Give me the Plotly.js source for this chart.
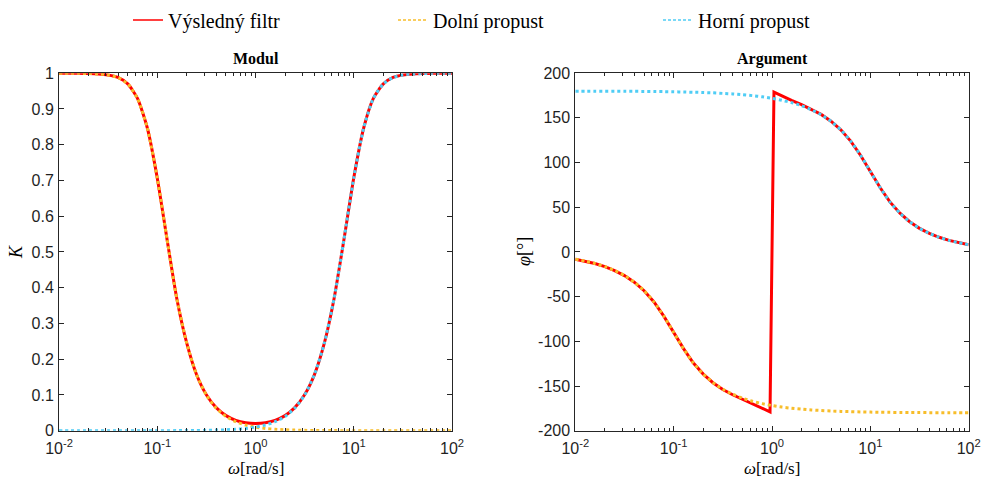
<!DOCTYPE html>
<html><head><meta charset="utf-8">
<script src="https://cdn.plot.ly/plotly-3.0.1.min.js"></script>
<style>html,body{margin:0;padding:0;background:#fff}</style>
</head><body><div id="chart" style="width:984px;height:477px"></div>
<script>
// angular frequency samples [rad/s]
const omega = [0.01, 0.0126, 0.0158, 0.02, 0.0251, 0.0316, 0.0398, 0.0501, 0.0631, 0.0794,
  0.1, 0.126, 0.158, 0.2, 0.251, 0.316, 0.398, 0.501, 0.631, 0.794,
  1, 1.26, 1.58, 2, 2.51, 3.16, 3.98, 5.01, 6.31, 7.94,
  10, 12.6, 15.8, 20, 25.1, 31.6, 39.8, 50.1, 63.1, 79.4, 100];

// Modul (K)
const lowMag = [1.000, 1.000, 0.9997, 0.9992, 0.998, 0.995, 0.988, 0.970, 0.929, 0.846,
  0.707, 0.534, 0.370, 0.244, 0.157, 0.0995, 0.0631, 0.0398, 0.0251, 0.0159,
  0.0100, 0.0063, 0.0040, 0.0025, 0.0016, 0.0010, 0.0006, 0.0004, 0.00025, 0.00016,
  0.0001, 0.00006, 0.00004, 0.000025, 0.000016, 0.00001, 0.000006, 0.000004, 0.0000025, 0.0000016, 0.000001];
const highMag = [0.000001, 0.0000016, 0.0000025, 0.000004, 0.000006, 0.00001, 0.000016, 0.000025, 0.00004, 0.00006,
  0.0001, 0.00016, 0.00025, 0.0004, 0.0006, 0.001, 0.0016, 0.0025, 0.004, 0.0063,
  0.0100, 0.0159, 0.0251, 0.0398, 0.0631, 0.0995, 0.157, 0.244, 0.370, 0.534,
  0.707, 0.846, 0.929, 0.970, 0.988, 0.995, 0.998, 0.9992, 0.9997, 1.000, 1.000];
const resultMag = [1.000, 1.000, 0.9997, 0.9992, 0.998, 0.995, 0.988, 0.970, 0.929, 0.846,
  0.707, 0.534, 0.370, 0.244, 0.157, 0.1004, 0.0645, 0.0422, 0.0289, 0.0220,
  0.0198, 0.0220, 0.0289, 0.0422, 0.0645, 0.1004, 0.157, 0.244, 0.370, 0.534,
  0.707, 0.846, 0.929, 0.970, 0.988, 0.995, 0.998, 0.9992, 0.9997, 1.000, 1.000];

// Argument (phi, degrees)
const lowPhase = [-8.1, -10.3, -12.9, -16.4, -20.8, -26.4, -33.8, -43.4, -56.0, -71.8,
  -90, -108.2, -124.0, -136.6, -146.2, -153.6, -159.2, -163.6, -167.1, -169.7,
  -171.9, -173.6, -174.9, -175.9, -176.8, -177.4, -178.0, -178.4, -178.7, -179.0,
  -179.2, -179.4, -179.5, -179.6, -179.7, -179.7, -179.8, -179.8, -179.9, -179.9, -179.9];
const highPhase = [179.9, 179.9, 179.9, 179.8, 179.8, 179.7, 179.7, 179.6, 179.5, 179.4,
  179.2, 179.0, 178.7, 178.4, 178.0, 177.4, 176.8, 175.9, 174.9, 173.6,
  171.9, 169.7, 167.1, 163.6, 159.2, 153.6, 146.2, 136.6, 124.0, 108.2,
  90, 71.8, 56.0, 43.4, 33.8, 26.4, 20.8, 16.4, 12.9, 10.3, 8.1];
const omegaResultPhase = [0.01, 0.0126, 0.0158, 0.02, 0.0251, 0.0316, 0.0398, 0.0501, 0.0631, 0.0794,
  0.1, 0.126, 0.158, 0.2, 0.251, 0.316, 0.398, 0.501, 0.631, 0.794,
  0.955, 1.047, 1.26, 1.58, 2, 2.51, 3.16, 3.98, 5.01, 6.31, 7.94,
  10, 12.6, 15.8, 20, 25.1, 31.6, 39.8, 50.1, 63.1, 79.4, 100];
const resultPhase = [-8.1, -10.3, -12.9, -16.4, -20.8, -26.4, -33.8, -43.4, -56.0, -71.8,
  -90, -108.2, -124.0, -136.7, -146.3, -153.9, -159.8, -164.9, -169.5, -174.4,
  -178.9, 178.9, 174.4, 169.5, 164.9, 159.8, 153.9, 146.3, 136.7, 124.0, 108.2,
  90, 71.8, 56.0, 43.4, 33.8, 26.4, 20.8, 16.4, 12.9, 10.3, 8.1];

const seriesNames = ['Výsledný filtr', 'Dolní propust', 'Horní propust'];
const xTickVals = [0.01, 0.1, 1, 10, 100];
const xTickText = ['10<sup>-2</sup>', '10<sup>-1</sup>', '10<sup>0</sup>', '10<sup>1</sup>', '10<sup>2</sup>'];
const phiTickVals = [-200, -150, -100, -50, 0, 50, 100, 150, 200];
const phiTickText = ['-200', '-150', '-100', '-50', '0', '50', '100', '150', '200'];

const RED = '#ff0000', YEL = '#f7bd2a', BLU = '#4fcdf5';
const AX = '#262626';
const W = 984, H = 477;
const px = v => v / W, py = v => 1 - v / H;

const traces = [
  {x: omega, y: resultMag, xaxis: 'x', yaxis: 'y', mode: 'lines', showlegend: false,
   line: {color: RED, width: 3, shape: 'spline', smoothing: 0.6}},
  {x: omega, y: lowMag, xaxis: 'x', yaxis: 'y', mode: 'lines', showlegend: false,
   line: {color: YEL, width: 3, dash: 'dot', shape: 'spline', smoothing: 0.6}},
  {x: omega, y: highMag, xaxis: 'x', yaxis: 'y', mode: 'lines', showlegend: false,
   line: {color: BLU, width: 3, dash: 'dot', shape: 'spline', smoothing: 0.6}},
  {x: omegaResultPhase, y: resultPhase, xaxis: 'x2', yaxis: 'y2', mode: 'lines', showlegend: false,
   line: {color: RED, width: 3}},
  {x: omega, y: lowPhase, xaxis: 'x2', yaxis: 'y2', mode: 'lines', showlegend: false,
   line: {color: YEL, width: 3, dash: 'dot', shape: 'spline', smoothing: 0.6}},
  {x: omega, y: highPhase, xaxis: 'x2', yaxis: 'y2', mode: 'lines', showlegend: false,
   line: {color: BLU, width: 3, dash: 'dot', shape: 'spline', smoothing: 0.6}},
  // legend entries
  {x: [null], y: [null], xaxis: 'x', yaxis: 'y', mode: 'lines', name: seriesNames[0],
   line: {color: RED, width: 1.5}},
  {x: [null], y: [null], xaxis: 'x', yaxis: 'y', mode: 'lines', name: seriesNames[1],
   line: {color: YEL, width: 1.5, dash: '3px,2px'}},
  {x: [null], y: [null], xaxis: 'x', yaxis: 'y', mode: 'lines', name: seriesNames[2],
   line: {color: BLU, width: 1.5, dash: '3px,2px'}}
];

const tickFont = {family: 'Liberation Sans, Arial, sans-serif', size: 16, color: '#1f1f1f'};
const xCommon = {
  type: 'log', range: [-2, 2], tickmode: 'array', tickvals: xTickVals, ticktext: xTickText,
  ticks: 'inside', ticklen: 5, tickwidth: 1, tickcolor: AX, mirror: 'allticks', ticklabelstandoff: 3,
  showline: true, linecolor: AX, linewidth: 1, showgrid: false, zeroline: false,
  minor: {ticks: 'inside', ticklen: 3, tickcolor: AX, tickwidth: 1, dtick: 'D1', tickmode: 'linear', showgrid: false},
  tickfont: tickFont, fixedrange: true
};
const yCommon = {
  ticks: 'inside', ticklen: 5, tickwidth: 1, tickcolor: AX, mirror: 'allticks', ticklabelstandoff: 1,
  showline: true, linecolor: AX, linewidth: 1, showgrid: false, zeroline: false,
  tickfont: tickFont, fixedrange: true
};

const serif = 'Liberation Serif, DejaVu Serif, serif';
const layout = {
  width: W, height: H,
  margin: {l: 0, r: 0, t: 0, b: 0, pad: 0},
  paper_bgcolor: '#fff', plot_bgcolor: '#fff',
  xaxis: Object.assign({}, xCommon, {domain: [px(59), px(452)], anchor: 'y'}),
  yaxis: Object.assign({}, yCommon, {domain: [py(430.5), py(71.5)], anchor: 'x', range: [0, 1], dtick: 0.1, tick0: 0}),
  xaxis2: Object.assign({}, xCommon, {domain: [px(575.3), px(968.7)], anchor: 'y2'}),
  yaxis2: Object.assign({}, yCommon, {domain: [py(430.5), py(71.5)], anchor: 'x2', range: [-200, 200],
    tickmode: 'array', tickvals: phiTickVals, ticktext: phiTickText}),
  showlegend: true,
  legend: {orientation: 'h', x: px(128), xanchor: 'left', y: py(18), yanchor: 'middle',
    font: {family: serif, size: 20, color: '#000'}, entrywidth: 220, entrywidthmode: 'pixels',
    bgcolor: 'rgba(0,0,0,0)', borderwidth: 0},
  annotations: [
    {text: '<b>Modul</b>', x: px(255.5), y: py(57), xref: 'paper', yref: 'paper', showarrow: false,
     xanchor: 'center', yanchor: 'middle', font: {family: serif, size: 16, color: '#000'}},
    {text: '<b>Argument</b>', x: px(772), y: py(57), xref: 'paper', yref: 'paper', showarrow: false,
     xanchor: 'center', yanchor: 'middle', font: {family: serif, size: 16, color: '#000'}},
    {text: '<i>ω</i>[rad/s]', x: px(255.5), y: py(468), xref: 'paper', yref: 'paper', showarrow: false,
     xanchor: 'center', yanchor: 'middle', font: {family: serif, size: 17, color: '#000'}},
    {text: '<i>ω</i>[rad/s]', x: px(772), y: py(468), xref: 'paper', yref: 'paper', showarrow: false,
     xanchor: 'center', yanchor: 'middle', font: {family: serif, size: 17, color: '#000'}},
    {text: '<i>K</i>', x: px(16), y: py(251), xref: 'paper', yref: 'paper', showarrow: false, textangle: -90,
     xanchor: 'center', yanchor: 'middle', font: {family: serif, size: 18, color: '#000'}},
    {text: '<i>φ</i>[°]', x: px(524), y: py(251), xref: 'paper', yref: 'paper', showarrow: false, textangle: -90,
     xanchor: 'center', yanchor: 'middle', font: {family: serif, size: 18, color: '#000'}}
  ]
};

Plotly.newPlot('chart', traces, layout, {displayModeBar: false, staticPlot: true});
</script>
</body></html>
